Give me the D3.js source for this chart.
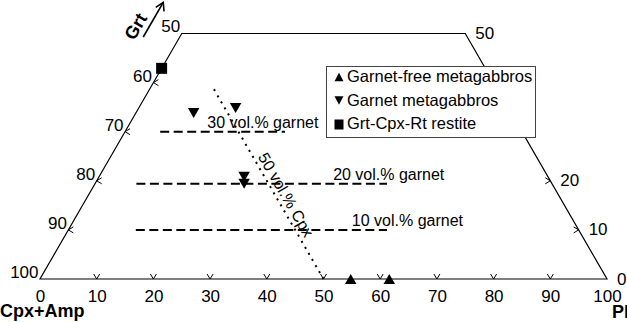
<!DOCTYPE html>
<html>
<head>
<meta charset="utf-8">
<script src="https://cdn.jsdelivr.net/npm/d3@7"></script>
<style>
  body { margin: 0; background: white; }
  svg { display: block; font-family: "Liberation Sans", Arial, sans-serif; }
</style>
</head>
<body>
<svg id="chart" width="627" height="322"></svg>
<script>
// ternary values in percent: pl = Pl, grt = Grt (Cpx+Amp = rest)
const bottomTicks = [0, 10, 20, 30, 40, 50, 60, 70, 80, 90, 100];
const leftTicks = [0, 10, 20, 30, 40, 50];     // Grt level, label shows Cpx+Amp
const rightTicks = [0, 10, 20, 30, 40, 50];    // Grt level along Pl-Grt side
const rightLabels = [0, 10, 20, 50];           // 30 and 40 sit under the legend

const garnetFree = [[54.8, 0], [61.6, 0]];
const garnetGabbros = [[10.2, 33.8], [17.1, 34.8], [25.6, 20.8], [26.3, 19.4]];
const restite = [[0, 42.9]];

const garnetLevels = [30, 19.4, 10];
const garnetLineFrom = [6.2, 7.3, 11.9];
const garnetLineTo = [28.2, 51.5, 56.2];
const garnetLabels = ["30 vol.% garnet", "20 vol.% garnet", "10 vol.% garnet"];
const garnetLabelAt = [14.5, 42, 50];

const cpxLine = 50;          // vol.% Cpx
const cpxLineTop = 39.5;     // grt where the dotted line stops

const legendNames = ["Garnet-free metagabbros", "Garnet metagabbros", "Grt-Cpx-Rt restite"];

let svg = d3.select("#chart");

let x = d3.scaleLinear().domain([0, 100]).range([40, 607]);
let y = d3.scaleLinear().domain([0, 100]).range([279, 279 - 567 * Math.sqrt(3) / 2]);

function pt(pl, grt) {
	return [x(pl + grt / 2), y(grt)];
}

function triangle(w, h, down) {
	let s = down ? -1 : 1;
	return `M${-w / 2},${s * h / 2}L${w / 2},${s * h / 2}L0,${-s * h / 2}Z`;
}

// frame
let frame = [pt(0, 0), pt(100, 0), pt(50, 50), pt(0, 50)];
svg.append("path")
	.attr("d", d3.line()(frame) + "Z")
	.attr("fill", "none")
	.attr("stroke", "black")
	.attr("stroke-width", 1.2);

// bottom axis labels
let bottom = svg.append("g")
	.attr("transform", `translate(0,${y(0)})`)
	.call(d3.axisBottom(x).tickValues(bottomTicks).tickSize(0).tickPadding(11));
bottom.select(".domain").remove();
bottom.selectAll("text").attr("font-size", 17).attr("font-family", "Liberation Sans, Arial").attr("fill", "black");

// chevron ticks
let chev = svg.append("g").attr("fill", "none").attr("stroke", "black").attr("stroke-width", 1);
bottomTicks.filter(d => d > 0 && d < 100).forEach(d => {
	let [px, py] = pt(d, 0);
	chev.append("path").attr("d", `M${px - 3},${py - 5}L${px},${py}L${px + 3},${py - 5}`);
});
leftTicks.filter(d => d > 0 && d < 50).forEach(d => {
	let [px, py] = pt(0, d);
	chev.append("path").attr("d", `M${px + 5},${py - 3}L${px},${py}L${px + 5},${py + 3}`);
});
rightTicks.filter(d => d > 0 && d < 50).forEach(d => {
	let [px, py] = pt(100 - d, d);
	chev.append("path").attr("d", `M${px - 5},${py - 3}L${px},${py}L${px - 5},${py + 3}`);
});

// side labels
svg.append("g").selectAll("text")
	.data(leftTicks).enter().append("text")
	.attr("x", d => pt(0, d)[0] - 1.5)
	.attr("y", d => pt(0, d)[1] - 1)
	.attr("text-anchor", "end")
	.attr("font-size", 17)
	.text(d => 100 - d);

svg.append("g").selectAll("text")
	.data(rightLabels).enter().append("text")
	.attr("x", d => pt(100 - d, d)[0] + 10)
	.attr("y", d => pt(100 - d, d)[1])
	.attr("dominant-baseline", "central")
	.attr("font-size", 17)
	.text(d => d);

// corner names
svg.append("text").attr("x", 0).attr("y", 317).attr("font-size", 18).attr("font-weight", "bold").text("Cpx+Amp");
svg.append("text").attr("x", 612).attr("y", 318).attr("font-size", 18).attr("font-weight", "bold").text("Pl");

// Grt arrow, parallel to the left side
let [cx, cy] = pt(0, 50);
let a0 = [cx - 38.5, cy + 3.5];
let a1 = [a0[0] + 20, a0[1] - 34.6];
svg.append("line")
	.attr("x1", a0[0]).attr("y1", a0[1]).attr("x2", a1[0]).attr("y2", a1[1])
	.attr("stroke", "black").attr("stroke-width", 1.6);
svg.append("path")
	.attr("d", `M${a1[0] - 7.5},${a1[1] + 5}L${a1[0]},${a1[1]}L${a1[0] + 0.8},${a1[1] + 9}`)
	.attr("fill", "none").attr("stroke", "black").attr("stroke-width", 1.6);
svg.append("text")
	.attr("transform", `translate(${cx - 46},${cy - 7}) rotate(-60)`)
	.attr("text-anchor", "middle")
	.attr("dominant-baseline", "central")
	.attr("font-size", 18).attr("font-weight", "bold")
	.text("Grt");

// garnet isolines
garnetLevels.forEach((g, i) => {
	svg.append("path")
		.attr("d", d3.line()([pt(garnetLineFrom[i], g), pt(garnetLineTo[i], g)]))
		.attr("stroke", "black").attr("stroke-width", 2)
		.attr("stroke-dasharray", "9 4.5");
	let [lx, ly] = pt(garnetLabelAt[i], g);
	svg.append("text").attr("x", lx).attr("y", ly - 4)
		.attr("font-size", 16).text(garnetLabels[i]);
});

// 50 vol.% Cpx line
let cpxPts = [pt(100 - cpxLine, 0), pt(100 - cpxLine - cpxLineTop, cpxLineTop)];
svg.append("path")
	.attr("d", d3.line()(cpxPts))
	.attr("stroke", "black").attr("stroke-width", 2)
	.attr("stroke-dasharray", "2 5");
let [tx, ty] = pt(100 - cpxLine - 24.5, 24.5);
svg.append("text")
	.attr("transform", `translate(${tx + 3.5},${ty - 2}) rotate(60)`)
	.attr("font-size", 16)
	.text("50 vol.% Cpx");

// samples
svg.append("g").selectAll("path")
	.data(garnetFree).enter().append("path")
	.attr("transform", d => `translate(${pt(d[0], d[1])})`)
	.attr("d", triangle(11.5, 10, false));
svg.append("g").selectAll("path")
	.data(garnetGabbros).enter().append("path")
	.attr("transform", d => `translate(${pt(d[0], d[1])})`)
	.attr("d", triangle(11.5, 10, true));
svg.append("g").selectAll("rect")
	.data(restite).enter().append("rect")
	.attr("x", d => pt(d[0], d[1])[0] - 5.5)
	.attr("y", d => pt(d[0], d[1])[1] - 5.5)
	.attr("width", 11).attr("height", 11);

// legend
let legend = svg.append("g").attr("transform", "translate(326,66)");
legend.append("rect")
	.attr("x", 0.5).attr("y", 0.5).attr("width", 209).attr("height", 71)
	.attr("fill", "white").attr("stroke", "#444").attr("stroke-width", 1);
legendNames.forEach((name, i) => {
	let row = legend.append("g").attr("transform", `translate(13,${11 + i * 23.5})`);
	if (i == 2) {
		row.append("rect").attr("x", -4.5).attr("y", -4.5).attr("width", 9).attr("height", 10);
	} else {
		row.append("path").attr("d", triangle(9, 8.5, i == 1));
	}
	row.append("text").attr("x", 8).attr("y", 5).attr("font-size", 16.5).text(name);
});
</script>
</body>
</html>
